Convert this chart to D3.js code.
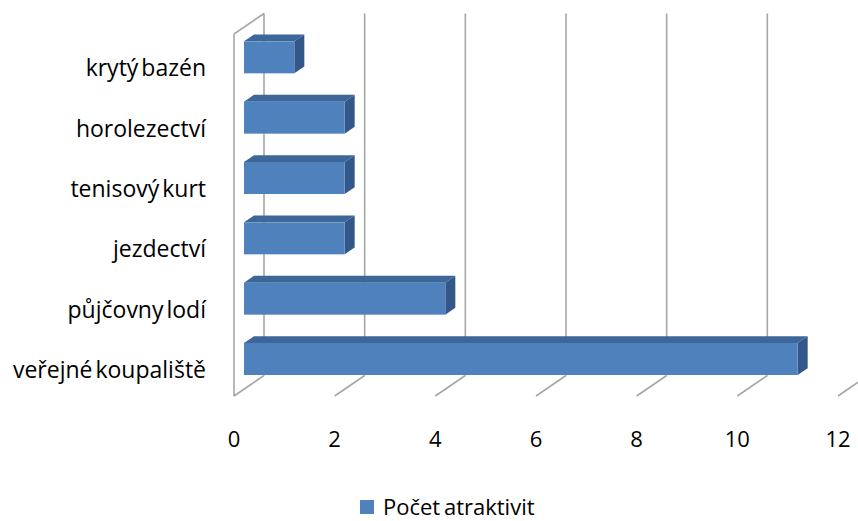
<!DOCTYPE html>
<html>
<head>
<meta charset="utf-8">
<script src="https://cdn.jsdelivr.net/npm/d3@7"></script>
<style>
  body { margin: 0; background: #fff; }
  text { font-family: "Open Sans", "Noto Sans", sans-serif; fill: #000; }
</style>
</head>
<body>
<div id="chart"></div>
<script>
// data (bottom to top, as in the original sheet)
const categories = ["veřejné koupaliště", "půjčovny lodí", "jezdectví", "tenisový kurt", "horolezectví", "krytý bazén"];
const values = [11, 4, 2, 2, 2, 1];
const ticks = [0, 2, 4, 6, 8, 10, 12];
const seriesName = "Počet atraktivit";

const W = 858, H = 521;
const svg = d3.select("#chart").append("svg")
  .attr("width", W)
  .attr("height", H);

// front plane of the 3d box
const x = d3.scaleLinear().domain([0, 12]).range([234, 838]);
const y = d3.scaleBand().domain(categories.slice().reverse()).range([34, 396]);
const depth = { dx: 30, dy: -20.5 }; // wall depth offset
const gridColor = "#a6a6a6";

const grid = svg.append("g")
  .attr("stroke", gridColor)
  .attr("stroke-width", 1.6)
  .attr("fill", "none");

// back verticals
grid.selectAll(".vline")
  .data(ticks)
  .enter()
  .append("line")
  .attr("x1", d => x(d) + depth.dx).attr("x2", d => x(d) + depth.dx)
  .attr("y1", 34 + depth.dy).attr("y2", 396 + depth.dy);

// floor diagonals
grid.selectAll(".floor")
  .data(ticks)
  .enter()
  .append("line")
  .attr("x1", d => x(d)).attr("y1", 396)
  .attr("x2", d => x(d) + depth.dx).attr("y2", 396 + depth.dy);

// left wall front edge + top edge
grid.append("line")
  .attr("x1", x(0)).attr("x2", x(0))
  .attr("y1", 34).attr("y2", 396);
grid.append("line")
  .attr("x1", x(0)).attr("y1", 34)
  .attr("x2", x(0) + depth.dx).attr("y2", 34 + depth.dy);

// bars, sitting in the middle third of the depth
const barH = 32;
const bx = depth.dx / 3, by = depth.dy / 3;
const bars = svg.selectAll(".bar")
  .data(categories.map((c, i) => ({ cat: c, val: values[i] })))
  .enter()
  .append("g")
  .attr("class", "bar");

function face(pts) { return "M" + pts.map(p => p.join(",")).join("L") + "Z"; }

bars.each(function(d) {
  const g = d3.select(this);
  const x0 = x(0) + bx, x1 = x(d.val) + bx;
  const yc = y(d.cat) + y.bandwidth() / 2 + by;
  const y0 = yc - barH / 2, y1 = yc + barH / 2;
  // top
  g.append("path")
    .attr("d", face([[x0, y0], [x0 + bx, y0 + by], [x1 + bx, y0 + by], [x1, y0]]))
    .attr("fill", "#3e6799");
  // side
  g.append("path")
    .attr("d", face([[x1, y0], [x1 + bx, y0 + by], [x1 + bx, y1 + by], [x1, y1]]))
    .attr("fill", "#34578a");
  // front
  g.append("rect")
    .attr("x", x0).attr("y", y0)
    .attr("width", x1 - x0).attr("height", barH)
    .attr("fill", "#4f81bd");
});

// category labels
svg.selectAll(".cat")
  .data(categories)
  .enter()
  .append("text")
  .attr("x", 206)
  .attr("y", d => y(d) + y.bandwidth() / 2 + 12)
  .attr("text-anchor", "end")
  .attr("font-size", "23px")
  .attr("word-spacing", "-3px")
  .text(d => d);

// value axis labels
svg.selectAll(".tick")
  .data(ticks)
  .enter()
  .append("text")
  .attr("x", d => x(d))
  .attr("y", 447)
  .attr("text-anchor", "middle")
  .attr("font-size", "22px")
  .text(d => d);

// legend
const legend = svg.append("g").attr("transform", "translate(360,500)");
legend.append("rect")
  .attr("width", 14).attr("height", 14)
  .attr("fill", "#4f81bd");
legend.append("text")
  .attr("x", 23).attr("y", 15)
  .attr("font-size", "22px")
  .attr("word-spacing", "-2px")
  .text(seriesName);
</script>
</body>
</html>
